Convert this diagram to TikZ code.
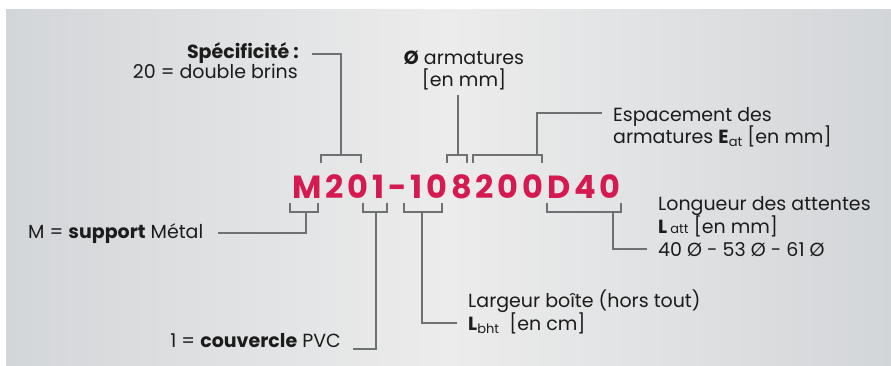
\documentclass[tikz,border=0pt]{standalone}
\usepackage{fontspec}
\setmainfont{Poppins}
\definecolor{codered}{HTML}{D41A50}
\definecolor{linegray}{HTML}{6F7072}
\definecolor{txt}{HTML}{1C1C1C}
\definecolor{bgside}{HTML}{D3D6D9}
\definecolor{bgmid}{HTML}{ECECEC}
\newcommand{\subtxt}[1]{\raisebox{-3pt}{\fontsize{13}{13}\selectfont #1}}
\begin{document}
\begin{tikzpicture}[x=1pt,y=-1pt,
  lbl/.style={inner sep=0pt, text=txt, font=\fontsize{19}{23}\selectfont},
  conn/.style={draw=linegray, line width=1.6pt},
  codefont/.style={inner sep=0pt, text=codered, font=\fontsize{32}{32}\selectfont\bfseries\addfontfeature{LetterSpace=12}}
]
\useasboundingbox (0,0) rectangle (891,365);
\fill[white] (0,0) rectangle (891,365);
\shade[left color=bgside, right color=bgside, middle color=bgmid] (6,9) rectangle (891,365);

% code
\node[codefont, anchor=base west] (code) at (292,198) {M201-108200D40};

% labels
\node[lbl, anchor=base east] (spec1) at (299,58) {\textbf{Spécificité :}};
\node[lbl, anchor=base east] (spec2) at (298,78) {20 = double brins};
\node[lbl, anchor=base] (arm1) at (464,64) {\textbf{Ø} armatures};
\node[lbl, anchor=base] (arm2) at (464,86) {[en mm]};
\node[lbl, anchor=base west] (esp1) at (613,121) {Espacement des};
\node[lbl, anchor=base west] (esp2) at (613,143) {armatures \textbf{E}\subtxt{at} [en mm]};
\node[lbl, anchor=base west] (met) at (28,238) {M = \textbf{support} Métal};
\node[lbl, anchor=base east] (couv) at (341,347) {1 = \textbf{couvercle} PVC};
\node[lbl, anchor=base west] (larg1) at (468,307) {Largeur boîte (hors tout)};
\node[lbl, anchor=base west] (larg2) at (468,330) {\textbf{L}\subtxt{bht}\ \ [en cm]};
\node[lbl, anchor=base west] (long1) at (658,210) {Longueur des attentes};
\node[lbl, anchor=base west] (long2) at (658,233) {\textbf{L}\,{\fontsize{13}{13}\selectfont att} [en mm]};
\node[lbl, anchor=base west] (long3) at (658,256) {40 Ø - 53 Ø - 61 Ø};

% connector end points
\coordinate (specE) at (312,54);
\coordinate (armE) at (458,95);
\coordinate (espE) at (602,113);
\coordinate (metE) at (218,233);
\coordinate (couvE) at (353,349);
\coordinate (largE) at (457,323);
\coordinate (longE) at (647,249);

% top brackets
\draw[conn] (321,163) -- (321,155) -- (361,155) -- (361,163);
\draw[conn] (447,163) -- (447,155) -- (467,155) -- (467,163);
\draw[conn] (473,163) -- (473,155) -- (542,155) -- (542,163);
\draw[conn] (specE) -| (341,155);
\draw[conn] (armE) -- (458,155);
\draw[conn] (espE) -| (537,155);

% bottom brackets
\draw[conn] (290,203) -- (290,212) -- (318,212) -- (318,203);
\draw[conn] (363,203) -- (363,212) -- (387,212) -- (387,203);
\draw[conn] (404,203) -- (404,212) -- (442,212) -- (442,203);
\draw[conn] (547,203) -- (547,212) -- (621,212) -- (621,203);
\draw[conn] (306,212) |- (metE);
\draw[conn] (376,212) |- (couvE);
\draw[conn] (422,212) |- (largE);
\draw[conn] (613,212) |- (longE);
\end{tikzpicture}
\end{document}
